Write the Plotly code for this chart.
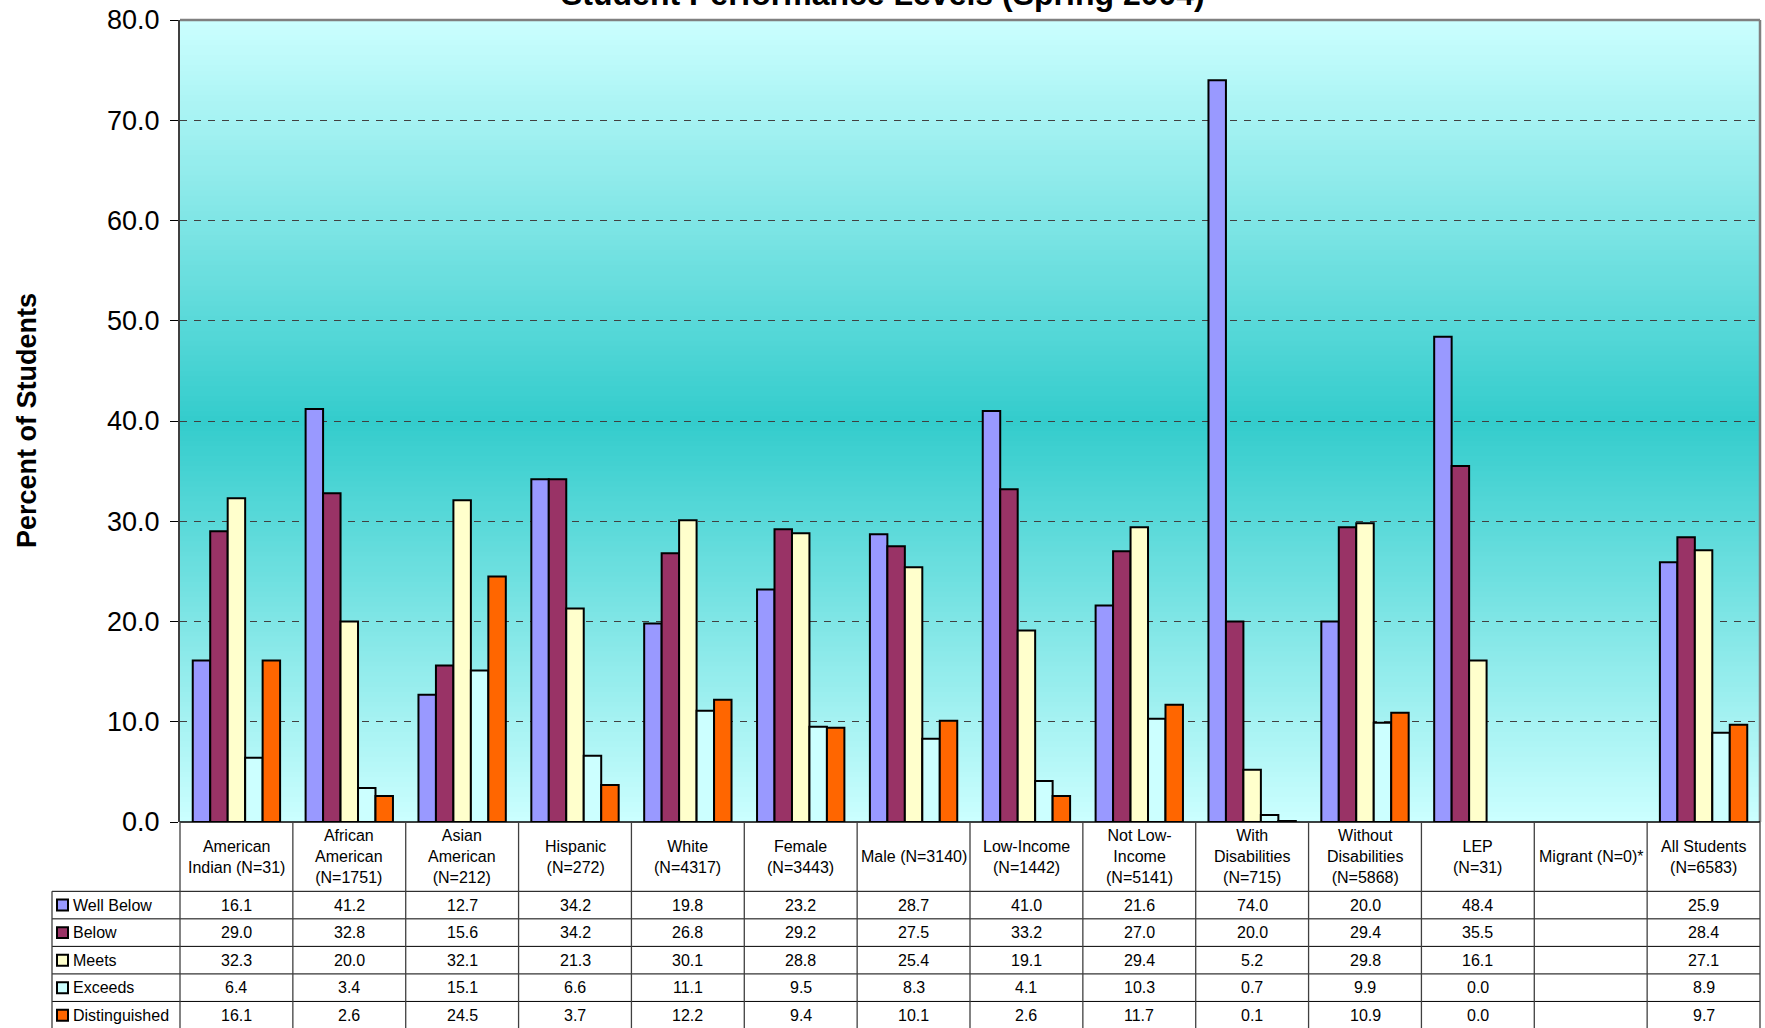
import plotly.graph_objects as go

# ---------------- data ----------------
categories = [
    "American<br>Indian (N=31)",
    "African<br>American<br>(N=1751)",
    "Asian<br>American<br>(N=212)",
    "Hispanic<br>(N=272)",
    "White<br>(N=4317)",
    "Female<br>(N=3443)",
    "Male (N=3140)",
    "Low-Income<br>(N=1442)",
    "Not Low-<br>Income<br>(N=5141)",
    "With<br>Disabilities<br>(N=715)",
    "Without<br>Disabilities<br>(N=5868)",
    "LEP<br>(N=31)",
    "Migrant (N=0)*",
    "All Students<br>(N=6583)",
]
series_names = ["Well Below", "Below", "Meets", "Exceeds", "Distinguished"]
well_below = [16.1, 41.2, 12.7, 34.2, 19.8, 23.2, 28.7, 41.0, 21.6, 74.0, 20.0, 48.4, None, 25.9]
below = [29.0, 32.8, 15.6, 34.2, 26.8, 29.2, 27.5, 33.2, 27.0, 20.0, 29.4, 35.5, None, 28.4]
meets = [32.3, 20.0, 32.1, 21.3, 30.1, 28.8, 25.4, 19.1, 29.4, 5.2, 29.8, 16.1, None, 27.1]
exceeds = [6.4, 3.4, 15.1, 6.6, 11.1, 9.5, 8.3, 4.1, 10.3, 0.7, 9.9, 0.0, None, 8.9]
distinguished = [16.1, 2.6, 24.5, 3.7, 12.2, 9.4, 10.1, 2.6, 11.7, 0.1, 10.9, 0.0, None, 9.7]
series_values = [well_below, below, meets, exceeds, distinguished]
colors = ["#9999FF", "#993366", "#FFFFCC", "#CCFFFF", "#FF6600"]
y_ticks = [0, 10, 20, 30, 40, 50, 60, 70, 80]

title_text = "Student Performance Levels (Spring 2004)"
y_title = "Percent of Students"

# ---------------- layout geometry (pixels) ----------------
W, H = 1765, 1028
L, R, T, B = 180, 1760, 18, 822
FONT = "Liberation Sans, Arial, sans-serif"


def py(p):
    return (B - p) / (B - T)


def px(p):
    return (p - L) / (R - L)


fig = go.Figure()
for name, vals, col in zip(series_names, series_values, colors):
    # zero values are not drawn as bars (as in the original chart)
    bar_vals = [v if v else None for v in vals]
    fig.add_trace(go.Bar(
        x=categories, y=bar_vals, name=name,
        marker=dict(color=col, line=dict(color="#000000", width=2)),
        showlegend=False, hoverinfo="x+y+name",
    ))

shapes = []
# background gradient (light cyan -> teal at 40 -> light cyan)
c_edge = (0xCC, 0xFF, 0xFF)
c_mid = (0x33, 0xCC, 0xCC)
n_strips = 160
for k in range(n_strips):
    v0 = 80 * k / n_strips
    v1 = 80 * (k + 1) / n_strips
    vc = (v0 + v1) / 2
    t = min(abs(vc - 40) / 40, 1)
    c = tuple(round(c_mid[i] + (c_edge[i] - c_mid[i]) * t) for i in range(3))
    shapes.append(dict(type="rect", xref="x", yref="y", x0=-0.5, x1=len(categories) - 0.5,
                       y0=v0, y1=min(v1 + 0.3, 80), layer="below", line=dict(width=0),
                       fillcolor="rgb(%d,%d,%d)" % c))

# plot border (top/right gray)
shapes.append(dict(type="line", xref="paper", yref="paper", x0=0, x1=1, y0=1, y1=1,
                   line=dict(color="#808080", width=2.5)))
shapes.append(dict(type="line", xref="paper", yref="paper", x0=1, x1=1, y0=0, y1=1,
                   line=dict(color="#808080", width=2.5)))

# table geometry
n = len(categories)
header_bottom = 891.5
row_h = 27.6
row_lines = [header_bottom + i * row_h for i in range(6)]
legend_left = 52

# horizontal table lines
shapes.append(dict(type="line", xref="paper", yref="paper", x0=0, x1=1, y0=0, y1=0,
                   line=dict(color="#000000", width=1.5)))
for yl in row_lines:
    shapes.append(dict(type="line", xref="paper", yref="paper",
                       x0=px(legend_left), x1=1, y0=py(yl), y1=py(yl),
                       line=dict(color="#000000", width=1)))
# vertical table lines
for i in range(n + 1):
    xv = i / n
    shapes.append(dict(type="line", xref="paper", yref="paper", x0=xv, x1=xv,
                       y0=py(B), y1=py(H + 2), line=dict(color="#404040", width=1.3)))
shapes.append(dict(type="line", xref="paper", yref="paper", x0=px(legend_left), x1=px(legend_left),
                   y0=py(header_bottom), y1=py(H + 2), line=dict(color="#404040", width=1.3)))

annotations = []
# header labels
for cat in categories:
    annotations.append(dict(xref="x", yref="paper", x=cat, y=py((B + header_bottom) / 2),
                            text=cat, showarrow=False, xanchor="center", yanchor="middle",
                            font=dict(family=FONT, size=16, color="#000000")))
# data rows + legend cells
for r, (name, vals, col) in enumerate(zip(series_names, series_values, colors)):
    yc = row_lines[r] + row_h / 2
    for cat, v in zip(categories, vals):
        annotations.append(dict(xref="x", yref="paper", x=cat, y=py(yc),
                                text="" if v is None else "%.1f" % v, showarrow=False,
                                xanchor="center", yanchor="middle",
                                font=dict(family=FONT, size=16, color="#000000")))
    shapes.append(dict(type="rect", xref="paper", yref="paper",
                       x0=px(57), x1=px(68), y0=py(yc - 5.5), y1=py(yc + 5.5),
                       fillcolor=col, line=dict(color="#000000", width=2)))
    annotations.append(dict(xref="paper", yref="paper", x=px(71), y=py(yc),
                            text=name, showarrow=False, xanchor="left", yanchor="middle",
                            font=dict(family=FONT, size=16, color="#000000")))

# title (clipped at top of page) and y axis title
annotations.append(dict(xref="paper", yref="paper", x=px(W / 2), y=py(11), text="<b>" + title_text + "</b>",
                        showarrow=False, xanchor="center", yanchor="bottom", borderpad=0,
                        font=dict(family=FONT, size=32, color="#000000")))
annotations.append(dict(xref="paper", yref="paper", x=px(27), y=0.5, text="<b>" + y_title + "</b>",
                        showarrow=False, xanchor="center", yanchor="middle", textangle=-90,
                        font=dict(family=FONT, size=27, color="#000000")))

fig.update_layout(
    width=W, height=H,
    margin=dict(l=L, r=W - R, t=T, b=H - B, pad=0),
    paper_bgcolor="#FFFFFF",
    plot_bgcolor="rgba(0,0,0,0)",
    barmode="group", bargap=0.226, bargroupgap=0,
    shapes=shapes, annotations=annotations,
    showlegend=False,
    xaxis=dict(range=[-0.5, n - 0.5], showticklabels=False, ticks="", showgrid=False,
               zeroline=False, showline=False, fixedrange=True),
    yaxis=dict(range=[0, 80], tickvals=y_ticks, tickformat=".1f", ticks="outside", ticklen=8,
               tickcolor="#000000", tickwidth=1, ticklabelstandoff=5,
               showline=True, linecolor="#404040", linewidth=2,
               showgrid=True, gridcolor="#404040", gridwidth=1, griddash="7px,7px",
               zeroline=False, tickfont=dict(family=FONT, size=27, color="#000000"),
               fixedrange=True),
)

fig.write_html("out.html", config={"displayModeBar": False},
               post_script="document.body.style.margin='0';document.body.style.overflow='hidden';")
